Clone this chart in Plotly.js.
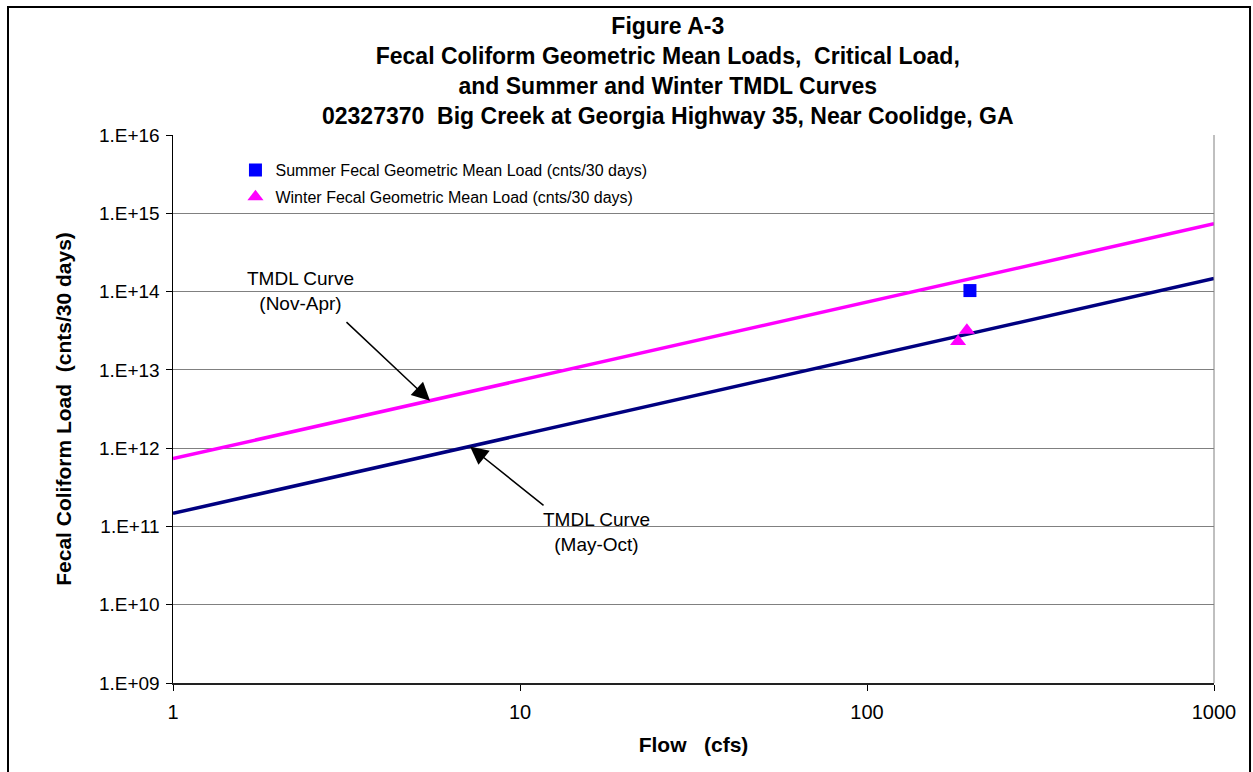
<!DOCTYPE html>
<html>
<head>
<meta charset="utf-8">
<script src="https://cdn.plot.ly/plotly-3.0.1.min.js"></script>
<style>body{margin:0;background:#fff;}#chart{width:1253px;height:772px;}</style>
</head>
<body>
<div id="chart"></div>
<script>
// Data
const tmdlFlow = [1, 1000];
const tmdlWinter = [7.34e11, 7.34e14];   // Nov-Apr
const tmdlSummer = [1.468e11, 1.468e14]; // May-Oct
const summerFlow = [198];
const summerLoad = [1.03e14];
const winterFlow = [183, 194];
const winterLoad = [2.3e13, 3.2e13];
const yTickVals = [1e9, 1e10, 1e11, 1e12, 1e13, 1e14, 1e15, 1e16];
const yTickText = ["1.E+09", "1.E+10", "1.E+11", "1.E+12", "1.E+13", "1.E+14", "1.E+15", "1.E+16"];
const xTickVals = [1, 10, 100, 1000];
const xTickText = ["1", "10", "100", "1000"];
const titleLines = [
  "Figure A-3",
  "Fecal Coliform Geometric Mean Loads,  Critical Load,",
  "and Summer and Winter TMDL Curves",
  "02327370  Big Creek at Georgia Highway 35, Near Coolidge, GA"
];

const traces = [
  {x: tmdlFlow, y: tmdlWinter, mode: 'lines', line: {color: '#FF00FF', width: 3.5}, showlegend: false, hoverinfo: 'skip'},
  {x: tmdlFlow, y: tmdlSummer, mode: 'lines', line: {color: '#000080', width: 3.5}, showlegend: false, hoverinfo: 'skip'},
  {x: summerFlow, y: summerLoad, mode: 'markers', name: 'Summer Fecal Geometric Mean Load (cnts/30 days)',
   legendgroup: 'a', marker: {symbol: 'square', color: '#0000FF', size: 13}},
  {x: winterFlow, y: winterLoad, mode: 'markers', name: 'Winter Fecal Geometric Mean Load (cnts/30 days)',
   legendgroup: 'b', marker: {symbol: 'triangle-up', color: '#FF00FF', size: 14}}
];

const F = 'Arial, "Liberation Sans", sans-serif';
const layout = {
  width: 1253, height: 772,
  margin: {l: 173, r: 39, t: 135, b: 89},
  paper_bgcolor: '#fff', plot_bgcolor: '#fff',
  font: {family: F, color: '#000'},
  xaxis: {
    type: 'log', range: [0, 3],
    tickvals: xTickVals, ticktext: xTickText,
    ticks: 'outside', ticklen: 6, tickcolor: '#000',
    showline: true, linecolor: '#222', linewidth: 1.5,
    showgrid: false, zeroline: false,
    tickfont: {size: 20},
    ticklabelstandoff: 4,
    title: {text: '<b>Flow   (cfs)</b>', font: {size: 21}, standoff: 16}
  },
  yaxis: {
    type: 'log', range: [9, 16],
    tickvals: yTickVals, ticktext: yTickText,
    ticks: 'outside', ticklen: 6, tickcolor: '#000',
    showline: true, linecolor: '#000', linewidth: 1.5,
    showgrid: true, gridcolor: '#808080', gridwidth: 1,
    zeroline: false,
    tickfont: {size: 19},
    ticklabelstandoff: 2,
    title: {text: '<b>Fecal Coliform Load  (cnts/30 days)</b>', font: {size: 21}, standoff: 21}
  },
  legend: {
    x: 0.060, y: 0.967, xanchor: 'left', yanchor: 'top',
    bgcolor: 'rgba(0,0,0,0)', font: {size: 16}, tracegroupgap: 3
  },
  shapes: [
    {type: 'line', xref: 'paper', yref: 'paper', x0: 1, x1: 1, y0: 0, y1: 1, line: {color: '#808080', width: 1}},
    {type: 'rect', xref: 'paper', yref: 'paper', x0: -0.1585, x1: 1.0346, y0: -0.17, y1: 1.2336, line: {color: '#000', width: 2}}
  ],
  annotations: [
    {xref: 'paper', yref: 'paper', x: 0.4755, y: 1.1168, xanchor: 'center', yanchor: 'middle',
     text: '<b>' + titleLines.join('<br>') + '</b>', showarrow: false, font: {size: 23}, align: 'center'},
    {xref: 'paper', yref: 'paper', x: 0.1225, y: 0.7145, xanchor: 'center', yanchor: 'middle',
     text: 'TMDL Curve<br>(Nov-Apr)', showarrow: false, font: {size: 19}, align: 'center'},
    {xref: 'paper', yref: 'paper', x: 0.4073, y: 0.2755, xanchor: 'center', yanchor: 'middle',
     text: 'TMDL Curve<br>(May-Oct)', showarrow: false, font: {size: 19}, align: 'center'},
    {xref: 'x', yref: 'y', x: 0.7406, y: 12.606, ax: -85, ay: -80, text: '', showarrow: true, arrowhead: 2, arrowsize: 2.4, arrowwidth: 1.5, arrowcolor: '#000'},
    {xref: 'x', yref: 'y', x: 0.856, y: 12.02, ax: 75, ay: 60, text: '', showarrow: true, arrowhead: 2, arrowsize: 2.4, arrowwidth: 1.5, arrowcolor: '#000'}
  ]
};

Plotly.newPlot('chart', traces, layout, {displayModeBar: false, staticPlot: true});
</script>
</body>
</html>
